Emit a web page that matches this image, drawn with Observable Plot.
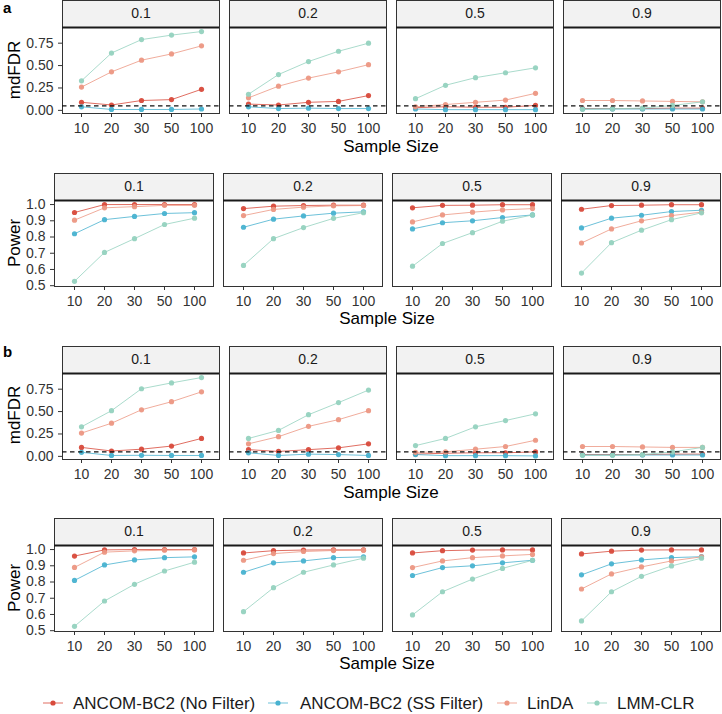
<!DOCTYPE html>
<html>
<head>
<meta charset="utf-8">
<script src="https://cdn.jsdelivr.net/npm/d3@7"></script>
<script src="https://cdn.jsdelivr.net/npm/@observablehq/plot@0.6"></script>
<style>
  body { margin: 0; background: white; }
  #wrap { position: relative; width: 722px; height: 714px; font-family: "Liberation Sans", Arial, sans-serif; background: white; overflow: hidden; }
  #wrap svg.row { position: absolute; left: 0; }
  .lbl { position: absolute; white-space: nowrap; color: #000; line-height: 1; }
  .ytitle { font-size: 17px; transform: translate(-50%, -50%) rotate(-90deg); }
  .xtitle { font-size: 17px; transform: translate(-50%, -50%); }
  .tag { font-size: 15px; font-weight: bold; transform: translate(0, -50%); }
  .leg { position: absolute; top: 703px; transform: translate(0, -50%); font-size: 17px; color: #1a1a1a; white-space: nowrap; line-height: 1; }
  .sw { position: absolute; top: 703px; transform: translate(0, -50%); }
</style>
</head>
<body>
<div id="wrap"></div>
<script>
// ---- categories ----
const sampleSizes = ["10", "20", "30", "50", "100"];
const proportions = ["0.1", "0.2", "0.5", "0.9"];
const methods = ["ANCOM-BC2 (No Filter)", "ANCOM-BC2 (SS Filter)", "LinDA", "LMM-CLR"];
const methodColors = ["#d84a3b", "#48b2d0", "#ec9783", "#95d2bf"];

// ---- tick labels ----
const fdrTicks = [0, 0.25, 0.5, 0.75];
const powerTicks = [0.5, 0.6, 0.7, 0.8, 0.9, 1.0];

// ---- panel a: mdFDR  (rows = proportion 0.1, 0.2, 0.5, 0.9; cols = sample size) ----
const aFdrNoFilter = [[0.09, 0.06, 0.11, 0.12, 0.235], [0.07, 0.06, 0.09, 0.10, 0.165], [0.03, 0.04, 0.035, 0.035, 0.055], [0.02, 0.02, 0.02, 0.025, 0.025]];
const aFdrSSFilter = [[0.04, 0.01, 0.01, 0.01, 0.015], [0.04, 0.02, 0.025, 0.02, 0.02], [0.015, 0.008, 0.008, 0.008, 0.008], [0.015, 0.015, 0.015, 0.015, 0.015]];
const aFdrLinDA = [[0.26, 0.43, 0.56, 0.63, 0.72], [0.14, 0.27, 0.36, 0.43, 0.51], [0.04, 0.065, 0.09, 0.115, 0.19], [0.11, 0.11, 0.105, 0.10, 0.095]];
const aFdrLMM = [[0.33, 0.64, 0.79, 0.84, 0.88], [0.18, 0.40, 0.545, 0.66, 0.75], [0.13, 0.28, 0.365, 0.42, 0.475], [0.012, 0.018, 0.025, 0.055, 0.095]];

// ---- panel a: Power ----
const aPowNoFilter = [[0.951, 1.0, 1.0, 1.0, 1.0], [0.975, 0.99, 0.994, 0.996, 0.996], [0.98, 0.995, 0.996, 0.999, 0.999], [0.971, 0.994, 0.996, 0.999, 0.999]];
const aPowSSFilter = [[0.82, 0.907, 0.927, 0.945, 0.95], [0.86, 0.91, 0.93, 0.947, 0.955], [0.85, 0.888, 0.90, 0.92, 0.936], [0.856, 0.916, 0.934, 0.957, 0.965]];
const aPowLinDA = [[0.904, 0.98, 0.987, 0.995, 0.995], [0.932, 0.97, 0.984, 0.992, 0.994], [0.893, 0.936, 0.953, 0.967, 0.975], [0.763, 0.85, 0.90, 0.932, 0.953]];
const aPowLMM = [[0.527, 0.705, 0.79, 0.877, 0.916], [0.625, 0.79, 0.858, 0.915, 0.95], [0.62, 0.76, 0.827, 0.897, 0.936], [0.578, 0.765, 0.842, 0.907, 0.949]];

// ---- panel b: mdFDR ----
const bFdrNoFilter = [[0.10, 0.06, 0.08, 0.115, 0.20], [0.075, 0.055, 0.075, 0.095, 0.14], [0.025, 0.035, 0.04, 0.04, 0.05], [0.02, 0.02, 0.02, 0.025, 0.025]];
const bFdrSSFilter = [[0.045, 0.01, 0.012, 0.01, 0.01], [0.04, 0.01, 0.025, 0.02, 0.01], [0.02, 0.008, 0.008, 0.008, 0.005], [0.015, 0.015, 0.015, 0.015, 0.015]];
const bFdrLinDA = [[0.26, 0.37, 0.52, 0.61, 0.72], [0.14, 0.22, 0.335, 0.41, 0.51], [0.045, 0.05, 0.08, 0.11, 0.18], [0.11, 0.11, 0.105, 0.10, 0.10]];
const bFdrLMM = [[0.33, 0.51, 0.755, 0.82, 0.88], [0.20, 0.29, 0.465, 0.60, 0.74], [0.12, 0.20, 0.33, 0.40, 0.475], [0.012, 0.012, 0.02, 0.05, 0.10]];

// ---- panel b: Power ----
const bPowNoFilter = [[0.96, 0.998, 1.0, 1.0, 1.0], [0.979, 0.993, 0.997, 0.998, 0.998], [0.979, 0.993, 0.997, 0.998, 0.998], [0.973, 0.99, 0.997, 0.998, 0.998]];
const bPowSSFilter = [[0.81, 0.905, 0.936, 0.95, 0.955], [0.86, 0.918, 0.93, 0.95, 0.955], [0.84, 0.889, 0.90, 0.918, 0.934], [0.844, 0.912, 0.936, 0.95, 0.956]];
const bPowLinDA = [[0.89, 0.984, 0.992, 0.996, 0.998], [0.934, 0.975, 0.988, 0.994, 0.996], [0.889, 0.93, 0.95, 0.961, 0.97], [0.757, 0.85, 0.893, 0.93, 0.955]];
const bPowLMM = [[0.527, 0.683, 0.786, 0.868, 0.922], [0.617, 0.765, 0.86, 0.905, 0.947], [0.597, 0.74, 0.818, 0.884, 0.934], [0.56, 0.74, 0.835, 0.899, 0.947]];

const fdrThreshold = 0.05;

function tidy(seriesList) {
  const rows = [];
  seriesList.forEach((series, mi) => {
    series.forEach((vals, pi) => {
      vals.forEach((v, si) => {
        rows.push({method: methods[mi], prop: proportions[pi], size: sampleSizes[si], value: v});
      });
    });
  });
  return rows;
}

const STRIP = 27, PANEL = 86, BOTTOM = 30;

function makeRow(data, opts) {
  const marks = [
    Plot.frame({fill: "#f2f2f2", stroke: "#333", strokeWidth: 1, insetTop: -STRIP, insetBottom: PANEL}),
    Plot.frame({stroke: "#333", strokeWidth: 1}),
    Plot.text(proportions, {fx: d => d, text: d => d, frameAnchor: "top", lineAnchor: "middle", dy: -STRIP / 2, fontSize: 14, fill: "#1a1a1a"}),
    Plot.axisX({tickSize: 4, tickPadding: 5.5, fontSize: 14, label: null}),
    Plot.axisY({ticks: opts.ticks, tickFormat: opts.fmt, tickSize: 4, tickPadding: 5, fontSize: 14, label: null}),
    Plot.line(data, {fx: "prop", x: "size", y: "value", stroke: "method", z: "method", strokeWidth: 1, strokeOpacity: 0.8}),
    Plot.dot(data, {fx: "prop", x: "size", y: "value", fill: "method", r: 2.6, fillOpacity: 0.95})
  ];
  if (opts.dashed) marks.push(Plot.ruleY([fdrThreshold], {stroke: "#111", strokeWidth: 1.4, strokeDasharray: "4.5,3.5"}));
  marks.push(Plot.ruleY([opts.domain[1]], {stroke: "#1a1a1a", strokeWidth: 2}));
  const svg = Plot.plot({
    width: 722,
    height: STRIP + PANEL + BOTTOM,
    marginTop: STRIP,
    marginBottom: BOTTOM,
    marginLeft: opts.marginLeft,
    marginRight: 2,
    style: {fontFamily: "'Liberation Sans', Arial, sans-serif", fontSize: "14px", color: "#333", background: "transparent", overflow: "visible"},
    fx: {domain: proportions, paddingInner: 0.06, paddingOuter: 0, axis: null, label: null},
    x: {type: "point", domain: sampleSizes, padding: 0.6, axis: null},
    y: {domain: opts.domain, axis: null},
    color: {domain: methods, range: methodColors},
    marks
  });
  svg.classList.add("row");
  svg.style.top = opts.top + "px";
  return svg;
}

const wrap = document.getElementById("wrap");
const fmt2 = d3.format(".2f"), fmt1 = d3.format(".1f");
const fdrDomain = [-0.035, 0.925], powDomain = [0.495, 1.025];

wrap.appendChild(makeRow(tidy([aFdrNoFilter, aFdrSSFilter, aFdrLinDA, aFdrLMM]), {top: 0, marginLeft: 62, domain: fdrDomain, ticks: fdrTicks, fmt: fmt2, dashed: true}));
wrap.appendChild(makeRow(tidy([aPowNoFilter, aPowSSFilter, aPowLinDA, aPowLMM]), {top: 173, marginLeft: 54, domain: powDomain, ticks: powerTicks, fmt: fmt1, dashed: false}));
wrap.appendChild(makeRow(tidy([bFdrNoFilter, bFdrSSFilter, bFdrLinDA, bFdrLMM]), {top: 346, marginLeft: 62, domain: fdrDomain, ticks: fdrTicks, fmt: fmt2, dashed: true}));
wrap.appendChild(makeRow(tidy([bPowNoFilter, bPowSSFilter, bPowLinDA, bPowLMM]), {top: 518, marginLeft: 54, domain: powDomain, ticks: powerTicks, fmt: fmt1, dashed: false}));

function addLabel(cls, text, x, y) {
  const d = document.createElement("div");
  d.className = "lbl " + cls;
  d.textContent = text;
  d.style.left = x + "px";
  d.style.top = y + "px";
  wrap.appendChild(d);
}
addLabel("tag", "a", 3, 7);
addLabel("tag", "b", 3, 351);
addLabel("ytitle", "mdFDR", 14, 70);
addLabel("ytitle", "Power", 14, 243);
addLabel("ytitle", "mdFDR", 14, 415);
addLabel("ytitle", "Power", 14, 588);
addLabel("xtitle", "Sample Size", 391, 146);
addLabel("xtitle", "Sample Size", 387, 318);
addLabel("xtitle", "Sample Size", 391, 492);
addLabel("xtitle", "Sample Size", 387, 663);

// legend
const legendX = [[43, 73], [268, 300], [497, 527], [587, 617]];
methods.forEach((m, i) => {
  const [sx, tx] = legendX[i];
  const sw = document.createElementNS("http://www.w3.org/2000/svg", "svg");
  sw.setAttribute("width", 20); sw.setAttribute("height", 10);
  sw.setAttribute("class", "sw");
  sw.style.left = sx + "px";
  sw.innerHTML = `<line x1="0" x2="20" y1="5" y2="5" stroke="${methodColors[i]}" stroke-width="1" stroke-opacity="0.8"/><circle cx="10" cy="5" r="2.6" fill="${methodColors[i]}"/>`;
  wrap.appendChild(sw);
  const t = document.createElement("div");
  t.className = "leg";
  t.textContent = m;
  t.style.left = tx + "px";
  wrap.appendChild(t);
});
</script>
</body>
</html>
